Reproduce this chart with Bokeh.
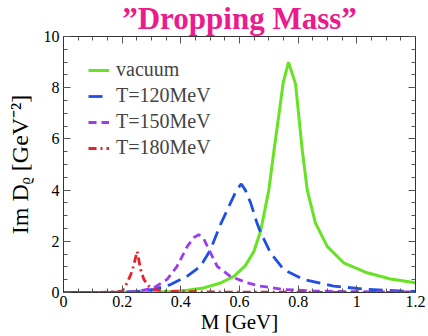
import numpy as np
from bokeh.plotting import figure
from bokeh.models import (Range1d, FixedTicker, LinearAxis, Legend, LegendItem,
                          CustomLabelingPolicy)
from bokeh.embed import file_html
from bokeh.resources import INLINE

# ---------------- data ----------------
title_text = "\u201dDropping Mass\u201d"
x_label = "M [GeV]"
y_label = "Im D\u1d68 [GeV\u207b\u00b2]"
series_names = ["vacuum", "T=120MeV", "T=150MeV", "T=180MeV"]

m_vac = [0.0, 0.1, 0.2, 0.3, 0.365, 0.422, 0.478, 0.535, 0.581, 0.62, 0.649, 0.672,
         0.70, 0.717, 0.735, 0.749, 0.767, 0.791, 0.814, 0.831, 0.859, 0.899, 0.955,
         1.035, 1.115, 1.2]
v_vac = [0.0, 0.0, 0.005, 0.02, 0.04, 0.09, 0.18, 0.37, 0.63, 1.05, 1.6, 2.4,
         4.0, 5.5, 7.0, 8.2, 9.0, 8.15, 5.56, 4.0, 2.71, 1.8, 1.16,
         0.77, 0.53, 0.38]

m_120 = [0.0, 0.1, 0.2, 0.25, 0.307, 0.365, 0.422, 0.467, 0.501, 0.535, 0.569, 0.59,
         0.606, 0.62, 0.638, 0.66, 0.672, 0.706, 0.751, 0.819, 0.921, 1.035, 1.17, 1.2]
v_120 = [0.0, 0.0, 0.01, 0.04, 0.12, 0.31, 0.64, 1.02, 1.67, 2.65, 3.49, 4.0,
         4.24, 4.0, 3.5, 2.7, 2.35, 1.54, 0.89, 0.51, 0.25, 0.12, 0.05, 0.04]

m_150 = [0.0, 0.1, 0.2, 0.25, 0.308, 0.353, 0.387, 0.422, 0.445, 0.461, 0.478, 0.496,
         0.524, 0.569, 0.626, 0.672, 0.75, 0.85, 1.0, 1.2]
v_150 = [0.0, 0.0, 0.01, 0.04, 0.18, 0.51, 1.02, 1.8, 2.15, 2.26, 2.1, 1.67,
         1.02, 0.63, 0.38, 0.25, 0.12, 0.06, 0.03, 0.02]

m_180 = [0.0, 0.1, 0.15, 0.2, 0.217, 0.234, 0.251, 0.263, 0.274, 0.291, 0.308, 0.35,
         0.5, 0.8, 1.2]
v_180 = [0.0, 0.0, 0.01, 0.05, 0.38, 0.83, 1.61, 0.9, 0.51, 0.25, 0.12, 0.05,
         0.02, 0.01, 0.0]

x_ticks = [0, 0.2, 0.4, 0.6, 0.8, 1.0, 1.2]
x_tick_labels = ["0", "0.2", "0.4", "0.6", "0.8", "1", "1.2"]
y_ticks = [0, 2, 4, 6, 8, 10]
y_tick_labels = ["0", "2", "4", "6", "8", "10"]

# ---------------- styling ----------------
SERIF = "Liberation Serif"
GREEN = "#68e225"
BLUE = "#1f4fe6"
PURPLE = "#9a3cf0"
RED = "#e8222a"
PINK = "#ec1a8c"

x_minor = [round(v, 3) for v in np.arange(0, 1.2001, 0.05)]
y_minor = [round(v, 3) for v in np.arange(0, 10.001, 0.5)]

p = figure(width=428, height=336, output_backend="svg", toolbar_location=None,
           x_range=Range1d(0, 1.2), y_range=Range1d(0, 10), title=title_text)
p.min_border_left = 63
p.min_border_right = 13
p.min_border_top = 36
p.min_border_bottom = 43
p.background_fill_color = "white"
p.border_fill_color = "white"
p.outline_line_color = "#222222"
p.outline_line_width = 1
p.xgrid.visible = False
p.ygrid.visible = False

p.title.text_font = SERIF
p.title.text_font_style = "bold"
p.title.text_font_size = "31px"
p.title.text_color = PINK
p.title.align = "center"
p.title.standoff = -6

hide_all = CustomLabelingPolicy(code="""
for (const i of Array.from(indices)) { indices.unset(i) }
return indices
""")


def style_axis(ax, ticks, minor, labels, show):
    ax.ticker = FixedTicker(ticks=ticks, minor_ticks=minor)
    ax.major_tick_in = 7
    ax.major_tick_out = 0
    ax.minor_tick_in = 4
    ax.minor_tick_out = 0
    ax.axis_line_color = "#333333"
    ax.major_tick_line_color = "#555555"
    ax.minor_tick_line_color = "#555555"
    ax.major_label_text_font = SERIF
    ax.major_label_text_color = "black"
    ax.axis_label_text_font = SERIF
    ax.axis_label_text_font_style = "normal"
    ax.axis_label_text_color = "black"
    if show:
        ax.major_label_text_font_size = "16px"
        ax.major_label_overrides = dict(zip(ticks, labels))
        ax.major_label_standoff = 4
    else:
        ax.major_label_text_font_size = "1px"
        ax.major_label_standoff = 0
        ax.major_label_policy = hide_all


style_axis(p.xaxis[0], x_ticks, x_minor, x_tick_labels, True)
style_axis(p.yaxis[0], y_ticks, y_minor, y_tick_labels, True)
p.xaxis[0].major_label_standoff = 3
p.xaxis[0].axis_label = x_label
p.xaxis[0].axis_label_text_font_size = "21px"
p.xaxis[0].axis_label_standoff = 0
p.yaxis[0].axis_label = y_label
p.yaxis[0].axis_label_text_font_size = "24px"
p.yaxis[0].axis_label_standoff = 8

top_ax = LinearAxis()
style_axis(top_ax, x_ticks, x_minor, x_tick_labels, False)
p.add_layout(top_ax, "above")
right_ax = LinearAxis()
style_axis(right_ax, y_ticks, y_minor, y_tick_labels, False)
p.add_layout(right_ax, "right")

r_vac = p.line(m_vac, v_vac, line_color=GREEN, line_width=3)
r_120 = p.line(m_120, v_120, line_color=BLUE, line_width=2.8, line_dash="14 7")
r_150 = p.line(m_150, v_150, line_color=PURPLE, line_width=2.8, line_dash="8 5")
r_180 = p.line(m_180, v_180, line_color=RED, line_width=2.8, line_dash="8 4 2 4")

legend = Legend(items=[LegendItem(label=n, renderers=[r]) for n, r in
                       zip(series_names, [r_vac, r_120, r_150, r_180])],
                location=(25, 133), padding=0, margin=0, spacing=3,
                glyph_width=21, glyph_height=20, label_height=20, label_standoff=7,
                label_text_font=SERIF, label_text_font_size="20px",
                border_line_alpha=0, background_fill_alpha=0)
p.add_layout(legend)

open("out.html", "w").write(file_html(p, INLINE))
